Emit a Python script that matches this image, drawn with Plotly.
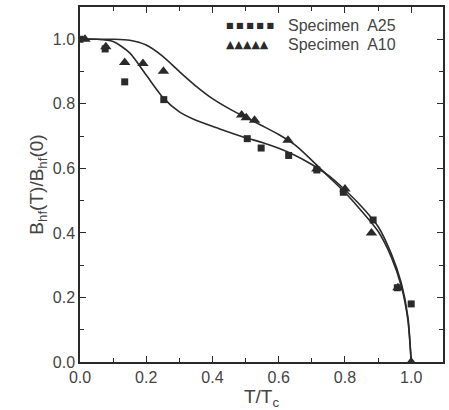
import plotly.graph_objects as go

# Measured data
a25_x = [0.0, 0.076, 0.135, 0.253, 0.505, 0.547, 0.63, 0.715, 0.795, 0.885, 0.958, 1.0]
a25_y = [1.0, 0.97, 0.868, 0.813, 0.692, 0.663, 0.64, 0.595, 0.526, 0.44, 0.23, 0.18]

a10_x = [0.015, 0.078, 0.135, 0.19, 0.252, 0.488, 0.502, 0.527, 0.628, 0.715, 0.80, 0.88, 0.96, 1.0]
a10_y = [1.0, 0.977, 0.928, 0.925, 0.901, 0.765, 0.757, 0.749, 0.687, 0.598, 0.536, 0.40, 0.23, 0.0]

# Fit curves
fit25_x = [0.0, 0.05, 0.1, 0.15, 0.2, 0.25, 0.3, 0.35, 0.42, 0.5, 0.55, 0.6, 0.65, 0.7,
           0.75, 0.8, 0.85, 0.9, 0.94, 0.97, 0.99, 1.0]
fit25_y = [1.0, 1.0, 0.993, 0.958, 0.889, 0.82, 0.775, 0.749, 0.723, 0.695, 0.68, 0.662, 0.64, 0.612,
           0.578, 0.533, 0.482, 0.42, 0.335, 0.245, 0.14, 0.0]

fit10_x = [0.0, 0.1, 0.15, 0.2, 0.25, 0.3, 0.35, 0.4, 0.45, 0.5, 0.55, 0.6, 0.65, 0.7,
           0.75, 0.8, 0.85, 0.9, 0.94, 0.97, 0.99, 1.0]
fit10_y = [1.0, 1.0, 0.997, 0.982, 0.947, 0.9, 0.855, 0.816, 0.785, 0.758, 0.732, 0.705, 0.672, 0.625,
           0.575, 0.525, 0.468, 0.405, 0.325, 0.235, 0.13, 0.0]

ink = "#2a2a2a"
txt = "#444444"
fig = go.Figure()
fig.add_trace(go.Scatter(x=fit25_x, y=fit25_y, mode="lines",
                         line=dict(color=ink, width=1.6, shape="spline", smoothing=0.7), showlegend=False))
fig.add_trace(go.Scatter(x=fit10_x, y=fit10_y, mode="lines",
                         line=dict(color=ink, width=1.6, shape="spline", smoothing=0.7), showlegend=False))
fig.add_trace(go.Scatter(x=a25_x, y=a25_y, mode="markers", name="Specimen A25",
                         marker=dict(symbol="square", size=7, color=ink), showlegend=False))
fig.add_trace(go.Scatter(x=a10_x, y=a10_y, mode="markers", name="Specimen A10",
                         marker=dict(symbol="triangle-up", size=10, color=ink), showlegend=False))

# legend built from annotations (row of symbols + label)
fig.add_annotation(xref="paper", yref="paper", x=0.397, y=0.947, xanchor="left", yanchor="middle",
                   text="■ ■ ■ ■ ■", showarrow=False, font=dict(family="DejaVu Sans", size=8, color=ink))
fig.add_annotation(xref="paper", yref="paper", x=0.397, y=0.895, xanchor="left", yanchor="middle",
                   text="▲▲▲▲▲", showarrow=False, font=dict(family="DejaVu Sans", size=11, color=ink))
fig.add_annotation(xref="paper", yref="paper", x=0.567, y=0.947, xanchor="left", yanchor="middle",
                   text="Specimen  A25", showarrow=False, font=dict(family="Liberation Sans", size=16, color=txt))
fig.add_annotation(xref="paper", yref="paper", x=0.567, y=0.895, xanchor="left", yanchor="middle",
                   text="Specimen  A10", showarrow=False, font=dict(family="Liberation Sans", size=16, color=txt))

axis_common = dict(showline=True, linecolor=ink, linewidth=1.5, mirror="ticks",
                   ticks="inside", ticklen=6, tickcolor=ink, tickwidth=1.2,
                   showgrid=False, zeroline=False,
                   tickfont=dict(family="Liberation Sans", size=16, color=txt),
                   minor=dict(ticks="inside", ticklen=4, tickcolor=ink, dtick=0.1, tickwidth=1.2))

fig.update_xaxes(range=[0, 1.096], dtick=0.2, tick0=0, tickformat=".1f",
                 title=dict(text="T/T<sub>c</sub>", font=dict(family="Liberation Sans", size=19, color=txt),
                            standoff=0),
                 **axis_common)
fig.update_yaxes(range=[0, 1.1], dtick=0.2, tick0=0, tickformat=".1f",
                 title=dict(text="B<sub>hf</sub>(T)/B<sub>hf</sub>(0)",
                            font=dict(family="Liberation Sans", size=19, color=txt), standoff=4),
                 **axis_common)

fig.update_layout(width=449, height=410, margin=dict(l=80, r=4, t=7, b=48),
                  plot_bgcolor="white", paper_bgcolor="white")
fig.write_html("out.html")
